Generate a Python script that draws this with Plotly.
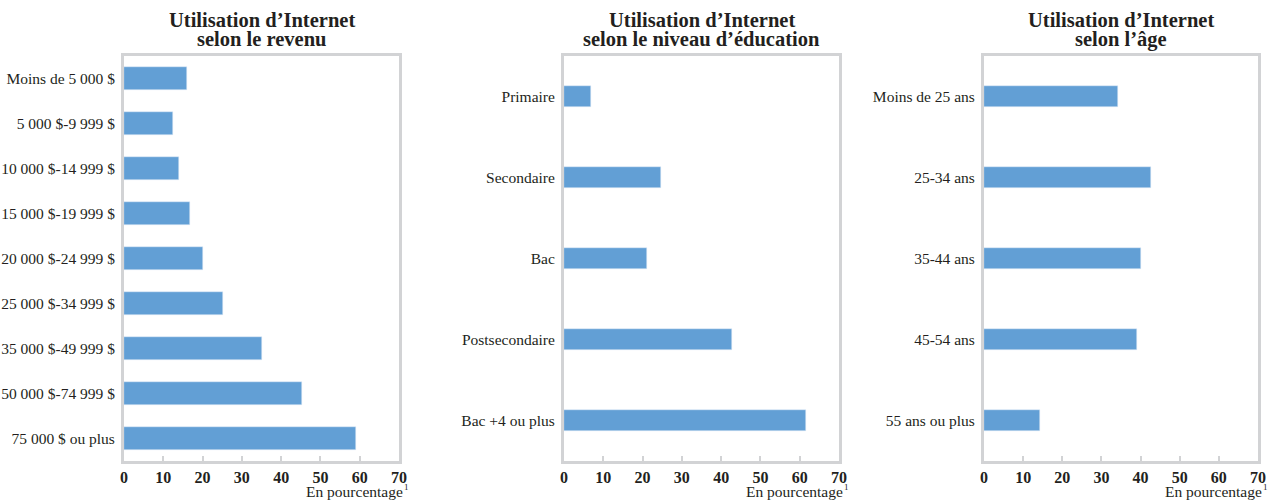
import plotly.graph_objects as go
from plotly.subplots import make_subplots

# ---- data ----
revenu_labels = ["Moins de 5 000 $", "5 000 $-9 999 $", "10 000 $-14 999 $", "15 000 $-19 999 $",
                 "20 000 $-24 999 $", "25 000 $-34 999 $", "35 000 $-49 999 $", "50 000 $-74 999 $",
                 "75 000 $ ou plus"]
revenu_values = [16.1, 12.5, 14.1, 16.9, 20.0, 25.3, 35.0, 45.4, 59.0]

education_labels = ["Primaire", "Secondaire", "Bac", "Postsecondaire", "Bac +4 ou plus"]
education_values = [6.9, 24.8, 21.0, 42.7, 61.6]

age_labels = ["Moins de 25 ans", "25-34 ans", "35-44 ans", "45-54 ans", "55 ans ou plus"]
age_values = [34.3, 42.6, 40.0, 39.0, 14.4]

titles = [("Utilisation d\u2019Internet", "selon le revenu"),
          ("Utilisation d\u2019Internet", "selon le niveau d\u2019éducation"),
          ("Utilisation d\u2019Internet", "selon l\u2019âge")]
x_ticks = [0, 10, 20, 30, 40, 50, 60, 70]
axis_title = "En pourcentage"
axis_title_note = "1"

# ---- layout constants ----
W, H = 1270, 501
BAR_COLOR = "#629fd5"
FRAME = "#d2d3d5"
TEXT = "#231f20"
SERIF = "Liberation Serif, Times New Roman, serif"

x_domains = [(124 / W, 399 / W), (564 / W, 839 / W), (984 / W, 1258 / W)]
y_domain = (1 - 461 / H, 1 - 56 / H)

fig = make_subplots(rows=1, cols=3)

panels = [(revenu_labels, revenu_values, 0.49),
          (education_labels, education_values, 0.27),
          (age_labels, age_values, 0.27)]

for i, (labels, values, bw) in enumerate(panels):
    fig.add_trace(go.Bar(x=values, y=labels, orientation="h", marker_color=BAR_COLOR,
                         width=bw, showlegend=False, hoverinfo="x+y"), row=1, col=i + 1)
    xa = "xaxis" if i == 0 else f"xaxis{i+1}"
    ya = "yaxis" if i == 0 else f"yaxis{i+1}"
    fig.layout[xa].update(domain=list(x_domains[i]), range=[0, 70], tickvals=x_ticks,
                          showgrid=False, zeroline=False, showline=True, mirror=True,
                          linecolor=FRAME, linewidth=3, ticks="inside", ticklen=5,
                          tickwidth=2, tickcolor=FRAME, fixedrange=True, automargin=False,
                          ticklabelstandoff=0,
                          tickfont=dict(family=SERIF, size=16, color=TEXT, weight="bold"))
    fig.layout[ya].update(domain=list(y_domain), autorange="reversed", showgrid=False,
                          zeroline=False, showline=True, mirror=True, linecolor=FRAME,
                          linewidth=3, ticks="", ticklabelstandoff=3, fixedrange=True,
                          automargin=False,
                          tickfont=dict(family=SERIF, size=15.5, color=TEXT))
    cx = (x_domains[i][0] + x_domains[i][1]) / 2
    fig.add_annotation(text=f"<b>{titles[i][0]}</b>", x=cx, y=1 - 20 / H, xref="paper",
                       yref="paper", showarrow=False, xanchor="center", yanchor="middle",
                       font=dict(family=SERIF, size=20.5, color=TEXT))
    fig.add_annotation(text=f"<b>{titles[i][1]}</b>", x=cx, y=1 - 39 / H, xref="paper",
                       yref="paper", showarrow=False, xanchor="center", yanchor="middle",
                       font=dict(family=SERIF, size=20.5, color=TEXT))
    fig.add_annotation(text=axis_title, x=x_domains[i][1] + 5 / W, y=1 - 491 / H,
                       xref="paper", yref="paper", showarrow=False, xanchor="right",
                       yanchor="middle", borderpad=0,
                       font=dict(family=SERIF, size=15.5, color=TEXT))
    fig.add_annotation(text=axis_title_note, x=x_domains[i][1] + 4 / W, y=1 - 487 / H,
                       xref="paper", yref="paper", showarrow=False, xanchor="left",
                       yanchor="middle", borderpad=0,
                       font=dict(family=SERIF, size=9, color=TEXT))

fig.update_layout(width=W, height=H, margin=dict(l=0, r=0, t=0, b=0),
                  paper_bgcolor="white", plot_bgcolor="white", bargap=0)

fig.write_html("out.html")
